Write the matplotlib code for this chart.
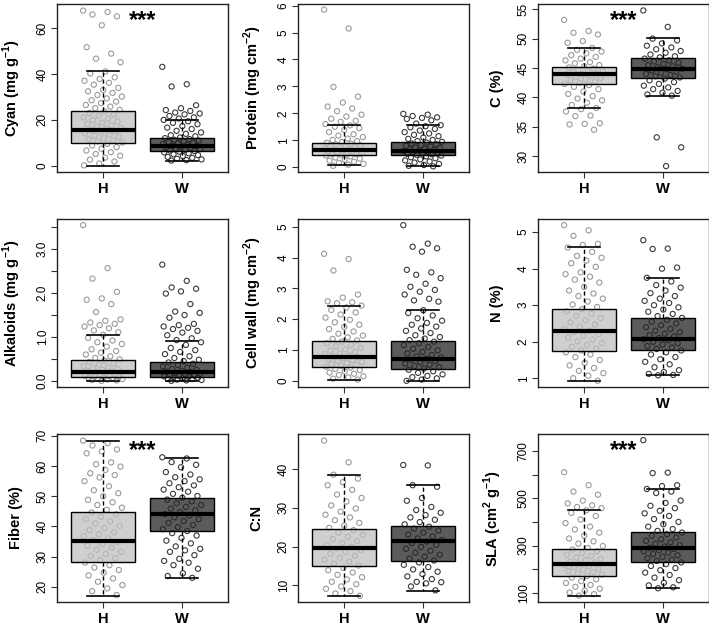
"""Leaf trait boxplots, H vs W, 3x3 panel."""

import numpy as np
import matplotlib
matplotlib.use("Agg")
import matplotlib.pyplot as plt

plt.rcParams["font.family"] = ["Liberation Sans", "DejaVu Sans"]
plt.rcParams["mathtext.fontset"] = "custom"
plt.rcParams["mathtext.rm"] = "Liberation Sans"
plt.rcParams["mathtext.bf"] = "Liberation Sans:bold"

groups = ["H", "W"]

# ── data: box stats (whislo, q1, med, q3, whishi) and jittered points ─────────
cyan_box = [[0.0, 10.0, 15.4, 24.0, 41.2], [2.2, 6.3, 8.5, 12.2, 20.1]]
cyan_h = [67.8, 67.2, 66.1, 65.3, 61.4, 51.8, 49.0, 46.8, 45.2, 41.2, 40.3, 38.6,
          37.9, 37.1, 36.2, 35.4, 34.0, 33.1, 32.5, 31.8, 30.9, 30.2, 29.4, 28.6,
          28.0, 27.3, 26.5, 25.8, 25.1, 24.4, 23.6, 23.0, 22.4, 21.8, 21.1, 20.5,
          19.9, 19.3, 18.8, 18.2, 17.6, 17.0, 16.5, 16.0, 15.6, 15.1, 14.6, 14.1,
          13.6, 13.1, 12.6, 12.0, 11.5, 11.0, 10.6, 10.1, 9.5, 8.8, 8.1, 7.4, 6.6,
          5.9, 5.1, 4.3, 3.5, 2.6, 1.8, 0.9, 0.1]
cyan_w = [43.2, 35.6, 34.6, 26.4, 25.1, 24.3, 23.9, 23.2, 22.8, 22.4, 21.7, 21.1,
          20.6, 20.0, 19.4, 18.7, 18.1, 17.3, 16.6, 16.0, 15.2, 14.5, 13.9, 13.3,
          12.8, 12.3, 12.0, 11.6, 11.3, 11.0, 10.6, 10.3, 10.0, 9.7, 9.4, 9.1, 8.8,
          8.6, 8.3, 8.0, 7.7, 7.5, 7.2, 6.9, 6.6, 6.4, 6.1, 5.8, 5.4, 5.0, 4.6, 4.2,
          3.8, 3.4, 3.0, 2.7, 2.4, 2.2]

protein_box = [[0.09, 0.46, 0.62, 0.91, 1.56], [0.06, 0.46, 0.60, 0.93, 1.56]]
protein_h = [5.85, 5.15, 2.98, 2.62, 2.40, 2.25, 2.18, 2.08, 1.95, 1.88, 1.80, 1.72,
             1.68, 1.60, 1.55, 1.50, 1.45, 1.38, 1.30, 1.22, 1.17, 1.12, 1.06, 1.01,
             0.97, 0.93, 0.90, 0.87, 0.84, 0.81, 0.78, 0.76, 0.73, 0.71, 0.69, 0.67,
             0.65, 0.63, 0.62, 0.60, 0.58, 0.56, 0.54, 0.52, 0.50, 0.48, 0.46, 0.43,
             0.40, 0.36, 0.32, 0.28, 0.24, 0.20, 0.16, 0.12, 0.09, 0.05]
protein_w = [1.98, 1.95, 1.90, 1.85, 1.83, 1.79, 1.74, 1.62, 1.56, 1.52, 1.48, 1.42,
             1.36, 1.30, 1.25, 1.20, 1.15, 1.10, 1.05, 1.01, 0.97, 0.94, 0.91, 0.88,
             0.85, 0.82, 0.79, 0.76, 0.73, 0.71, 0.68, 0.66, 0.64, 0.62, 0.60, 0.58,
             0.56, 0.54, 0.52, 0.50, 0.48, 0.46, 0.43, 0.40, 0.37, 0.33, 0.29, 0.25,
             0.21, 0.17, 0.12, 0.08, 0.05, 0.03]

carbon_box = [[38.2, 42.2, 44.0, 45.1, 48.4], [40.3, 43.35, 44.8, 46.7, 50.06]]
carbon_h = [53.2, 51.3, 51.0, 50.7, 49.6, 49.3, 48.4, 48.1, 47.8, 47.5, 47.2, 46.9,
            46.6, 46.3, 46.0, 45.8, 45.5, 45.3, 45.1, 44.9, 44.7, 44.5, 44.4, 44.2,
            44.1, 44.0, 43.9, 43.7, 43.5, 43.3, 43.1, 42.9, 42.7, 42.5, 42.3, 42.1,
            41.8, 41.4, 41.0, 40.6, 40.2, 39.8, 39.5, 39.1, 38.7, 38.2, 38.0, 37.6,
            36.9, 36.8, 35.6, 35.5, 35.4, 34.5]
carbon_w = [54.8, 52.0, 50.0, 49.7, 49.2, 48.8, 48.5, 48.2, 47.9, 47.6, 47.3, 47.0,
            46.8, 46.6, 46.3, 46.1, 45.9, 45.7, 45.5, 45.3, 45.1, 44.9, 44.8, 44.6,
            44.4, 44.2, 44.0, 43.8, 43.6, 43.4, 43.2, 42.9, 42.6, 42.3, 42.0, 41.7,
            41.4, 41.1, 40.8, 40.5, 40.3, 33.2, 31.5, 28.3]

alk_box = [[0.0, 0.08, 0.20, 0.48, 1.05], [0.0, 0.08, 0.20, 0.42, 0.91]]
alk_h = [3.55, 2.57, 2.33, 2.03, 1.88, 1.85, 1.75, 1.57, 1.40, 1.37, 1.33, 1.30,
         1.27, 1.24, 1.20, 1.15, 1.11, 1.05, 0.98, 0.92, 0.88, 0.84, 0.78, 0.72,
         0.68, 0.64, 0.60, 0.56, 0.52, 0.49, 0.46, 0.43, 0.40, 0.37, 0.34, 0.31,
         0.29, 0.27, 0.25, 0.23, 0.21, 0.20, 0.19, 0.17, 0.16, 0.14, 0.13, 0.12,
         0.11, 0.10, 0.09, 0.08, 0.07, 0.06, 0.05, 0.04, 0.03, 0.02, 0.01, 0.0]
alk_w = [2.65, 2.28, 2.13, 2.10, 2.04, 1.99, 1.75, 1.58, 1.55, 1.50, 1.44, 1.30,
         1.27, 1.24, 1.21, 1.18, 1.14, 1.10, 1.04, 0.97, 0.93, 0.88, 0.82, 0.75,
         0.70, 0.66, 0.61, 0.56, 0.52, 0.48, 0.45, 0.42, 0.39, 0.36, 0.33, 0.30,
         0.27, 0.25, 0.23, 0.21, 0.20, 0.18, 0.16, 0.15, 0.13, 0.12, 0.11, 0.10,
         0.09, 0.08, 0.07, 0.06, 0.05, 0.04, 0.03, 0.02, 0.01, 0.0]

wall_box = [[0.04, 0.45, 0.77, 1.28, 2.44], [0.0, 0.38, 0.71, 1.28, 2.29]]
wall_h = [4.12, 3.95, 3.58, 2.80, 2.70, 2.58, 2.55, 2.52, 2.44, 2.38, 2.30, 2.22,
          2.15, 2.05, 1.98, 1.90, 1.82, 1.75, 1.68, 1.60, 1.53, 1.47, 1.41, 1.36,
          1.31, 1.27, 1.22, 1.17, 1.12, 1.07, 1.02, 0.98, 0.94, 0.90, 0.86, 0.82,
          0.79, 0.76, 0.73, 0.70, 0.67, 0.64, 0.61, 0.58, 0.55, 0.52, 0.49, 0.46,
          0.43, 0.39, 0.35, 0.31, 0.27, 0.23, 0.19, 0.15, 0.11, 0.07, 0.04]
wall_w = [5.05, 4.45, 4.35, 4.30, 4.19, 3.60, 3.52, 3.44, 3.33, 3.15, 3.05, 2.95,
          2.89, 2.80, 2.66, 2.61, 2.57, 2.29, 2.20, 2.12, 2.03, 1.95, 1.88, 1.82,
          1.76, 1.70, 1.62, 1.55, 1.48, 1.42, 1.37, 1.32, 1.27, 1.22, 1.16, 1.10,
          1.04, 0.99, 0.94, 0.89, 0.84, 0.80, 0.76, 0.72, 0.68, 0.64, 0.60, 0.56,
          0.52, 0.48, 0.44, 0.40, 0.36, 0.31, 0.26, 0.21, 0.16, 0.12, 0.08, 0.04, 0.0]

nitro_box = [[0.93, 1.75, 2.29, 2.89, 4.60], [1.09, 1.77, 2.08, 2.65, 3.75]]
nitro_h = [5.19, 5.05, 4.90, 4.68, 4.65, 4.58, 4.46, 4.35, 4.30, 4.22, 4.15, 4.05,
           3.90, 3.85, 3.78, 3.70, 3.62, 3.50, 3.40, 3.32, 3.25, 3.18, 3.10, 3.02,
           2.95, 2.89, 2.83, 2.77, 2.71, 2.65, 2.59, 2.53, 2.47, 2.41, 2.35, 2.30,
           2.26, 2.21, 2.16, 2.11, 2.06, 2.01, 1.96, 1.91, 1.86, 1.81, 1.76, 1.71,
           1.65, 1.58, 1.50, 1.42, 1.35, 1.28, 1.20, 1.14, 1.07, 1.00, 0.93]
nitro_w = [4.78, 4.55, 4.54, 4.03, 4.00, 3.75, 3.65, 3.55, 3.48, 3.40, 3.33, 3.25,
           3.18, 3.12, 3.06, 3.00, 2.94, 2.88, 2.82, 2.76, 2.70, 2.65, 2.60, 2.55,
           2.50, 2.45, 2.40, 2.35, 2.30, 2.26, 2.22, 2.18, 2.14, 2.10, 2.07, 2.04,
           2.00, 1.96, 1.92, 1.88, 1.84, 1.80, 1.76, 1.71, 1.65, 1.58, 1.52, 1.45,
           1.38, 1.30, 1.22, 1.17, 1.12, 1.09, 1.08]

fiber_box = [[16.9, 28.3, 35.3, 44.7, 68.3], [22.9, 38.5, 44.0, 49.5, 62.8]]
fiber_h = [68.4, 67.6, 66.8, 65.5, 64.8, 64.2, 61.2, 60.6, 59.8, 58.7, 57.6, 57.0,
           56.2, 55.0, 53.3, 52.0, 51.0, 50.0, 48.8, 48.0, 47.1, 46.2, 45.5, 44.6,
           44.0, 43.2, 42.5, 41.7, 41.0, 40.2, 39.5, 38.8, 38.1, 37.4, 36.8, 36.1,
           35.5, 34.9, 34.2, 33.6, 33.0, 32.3, 31.6, 30.9, 30.2, 29.5, 28.8, 28.1,
           27.2, 26.4, 25.6, 24.7, 23.8, 22.8, 21.7, 20.6, 19.5, 18.6, 17.3]
fiber_w = [62.9, 62.5, 61.3, 60.4, 59.6, 58.0, 57.2, 56.3, 55.6, 55.0, 54.3, 53.6,
           53.0, 52.2, 51.5, 50.8, 50.1, 49.5, 48.9, 48.3, 47.7, 47.1, 46.5, 45.9,
           45.3, 44.7, 44.1, 43.6, 43.0, 42.4, 41.8, 41.2, 40.5, 39.8, 39.1, 38.5,
           37.8, 37.0, 36.2, 35.3, 34.4, 33.4, 32.6, 32.1, 31.6, 30.5, 29.3, 28.6,
           28.0, 27.2, 26.0, 24.5, 23.6, 23.0]

cn_box = [[7.2, 15.1, 19.5, 24.6, 38.5], [8.6, 16.3, 21.4, 25.3, 35.8]]
cn_h = [47.3, 41.7, 38.5, 37.5, 36.6, 35.8, 34.6, 33.4, 32.5, 31.6, 30.6, 29.8,
        29.0, 28.2, 27.5, 26.8, 26.1, 25.4, 24.8, 24.2, 23.6, 23.0, 22.5, 21.9,
        21.4, 20.9, 20.4, 19.9, 19.5, 19.1, 18.6, 18.1, 17.6, 17.1, 16.6, 16.1,
        15.6, 15.1, 14.5, 13.9, 13.3, 12.7, 12.1, 11.5, 10.9, 10.3, 9.7, 9.1, 8.5,
        7.9, 7.3]
cn_w = [41.0, 40.9, 35.8, 35.4, 32.5, 31.8, 30.2, 29.4, 28.7, 28.1, 27.5, 26.9,
        26.3, 25.7, 25.1, 24.6, 24.1, 23.6, 23.1, 22.6, 22.1, 21.7, 21.3, 20.9,
        20.4, 19.9, 19.4, 18.9, 18.4, 17.9, 17.4, 16.9, 16.4, 15.9, 15.3, 14.7,
        14.1, 13.5, 12.9, 12.3, 11.6, 10.9, 10.8, 10.5, 9.7, 8.7]

sla_box = [[88.7, 172, 223, 284, 449], [120, 231, 291, 358, 539]]
sla_h = [610, 555, 528, 515, 490, 478, 470, 463, 458, 449, 438, 425, 410, 395, 380,
         368, 355, 342, 330, 318, 308, 298, 290, 283, 276, 269, 262, 256, 250, 244,
         238, 233, 228, 223, 218, 213, 208, 203, 198, 193, 188, 183, 178, 172, 165,
         158, 150, 142, 134, 126, 118, 110, 102, 95, 89]
sla_w = [745, 608, 606, 555, 551, 539, 528, 522, 490, 480, 468, 458, 447, 436, 425,
         412, 400, 390, 380, 370, 362, 355, 348, 341, 334, 327, 320, 314, 308, 302,
         296, 291, 286, 281, 276, 271, 265, 259, 253, 247, 241, 235, 229, 222, 214,
         205, 196, 186, 176, 165, 154, 143, 132, 124, 120]

# label, box stats, points, ylim, ticks, tick labels, significance
panels = [
    ("Cyan (mg g$^{\\mathbf{-1}}$)", cyan_box, [cyan_h, cyan_w], (-2.8, 70.7),
     [0, 20, 40, 60], None, True),
    ("Protein (mg cm$^{\\mathbf{-2}}$)", protein_box, [protein_h, protein_w], (-0.18, 6.06),
     [0, 1, 2, 3, 4, 5, 6], None, False),
    ("C (%)", carbon_box, [carbon_h, carbon_w], (27.3, 55.9),
     [30, 35, 40, 45, 50, 55], None, True),
    ("Alkaloids (mg g$^{\\mathbf{-1}}$)", alk_box, [alk_h, alk_w], (-0.14, 3.69),
     [0, 0.5, 1.0, 1.5, 2.0, 2.5, 3.0, 3.5],
     ["0.0", "", "1.0", "", "2.0", "", "3.0", ""], False),
    ("Cell wall (mg cm$^{\\mathbf{-2}}$)", wall_box, [wall_h, wall_w], (-0.2, 5.25),
     [0, 1, 2, 3, 4, 5], None, False),
    ("N (%)", nitro_box, [nitro_h, nitro_w], (0.76, 5.36),
     [1, 2, 3, 4, 5], None, False),
    ("Fiber (%)", fiber_box, [fiber_h, fiber_w], (15.0, 70.6),
     [20, 30, 40, 50, 60, 70], None, True),
    ("C:N", cn_box, [cn_h, cn_w], (5.7, 49.0),
     [10, 20, 30, 40], None, False),
    ("SLA (cm$^{\\mathbf{2}}$ g$^{\\mathbf{-1}}$)", sla_box, [sla_h, sla_w], (62, 771),
     [100, 200, 300, 400, 500, 600, 700],
     ["100", "", "300", "", "500", "", "700"], True),
]

box_fill = [(0.75, 0.75, 0.75, 0.75), (0.14, 0.14, 0.14, 0.75)]
pt_color = ["#9a9a9a", "#3a3a3a"]

W, H = 709, 627
fig = plt.figure(figsize=(W / 100, H / 100), dpi=100)
col_left = [57, 298, 538]
row_top = [4, 219, 434]
aw, ah = 171, 168

for k, (label, box, pts, ylim, ticks, tlabels, sig) in enumerate(panels):
    r, c = divmod(k, 3)
    ax = fig.add_axes([col_left[c] / W, 1 - (row_top[r] + ah) / H, aw / W, ah / H])

    # jittered points under the boxes
    for g, vals in enumerate(pts):
        n = len(vals)
        jit = ((np.arange(n) * 0.6180339887) % 1 - 0.5) * 0.5
        ax.scatter(g + 1 + jit, vals, s=14, facecolors="none",
                   edgecolors=pt_color[g], linewidths=0.8, zorder=2)

    stats = [dict(whislo=b[0], q1=b[1], med=b[2], q3=b[3], whishi=b[4], fliers=[])
             for b in box]
    bp = ax.bxp(stats, positions=[1, 2], widths=0.8, capwidths=0.4,
                patch_artist=True, showfliers=False,
                boxprops=dict(edgecolor="black", linewidth=1.0),
                whiskerprops=dict(color="black", linewidth=1.0, linestyle=(0, (3, 2))),
                capprops=dict(color="black", linewidth=1.2),
                medianprops=dict(color="black", linewidth=3.0, solid_capstyle="butt"))
    for patch, fc in zip(bp["boxes"], box_fill):
        patch.set_facecolor(fc)
        patch.set_zorder(3)
    for art in bp["medians"] + bp["whiskers"] + bp["caps"]:
        art.set_zorder(4)

    ax.set_xlim(0.42, 2.58)
    ax.set_ylim(*ylim)
    ax.set_xticks([1, 2])
    ax.set_xticklabels(groups, fontsize=10.5, fontweight="bold")
    ax.set_yticks(ticks)
    ax.set_yticklabels(tlabels if tlabels else [f"{t:g}" for t in ticks],
                       fontsize=8.5, rotation=90, va="center")
    ax.tick_params(axis="both", direction="out", length=4, width=0.8,
                   color="#333333")
    ax.tick_params(axis="y", pad=2)
    ax.tick_params(axis="x", pad=3)
    for sp in ax.spines.values():
        sp.set_linewidth(1.0)
        sp.set_color("#222222")
    ax.set_ylabel(label, fontsize=10.5, fontweight="bold")
    ax.yaxis.set_label_coords(-0.2, 0.5)

    if sig:
        ax.text(1.5, ylim[0] + 0.9 * (ylim[1] - ylim[0]), "***", ha="center",
                va="center", fontsize=17, fontweight="bold", zorder=5)

fig.savefig("out.png", dpi=100)
